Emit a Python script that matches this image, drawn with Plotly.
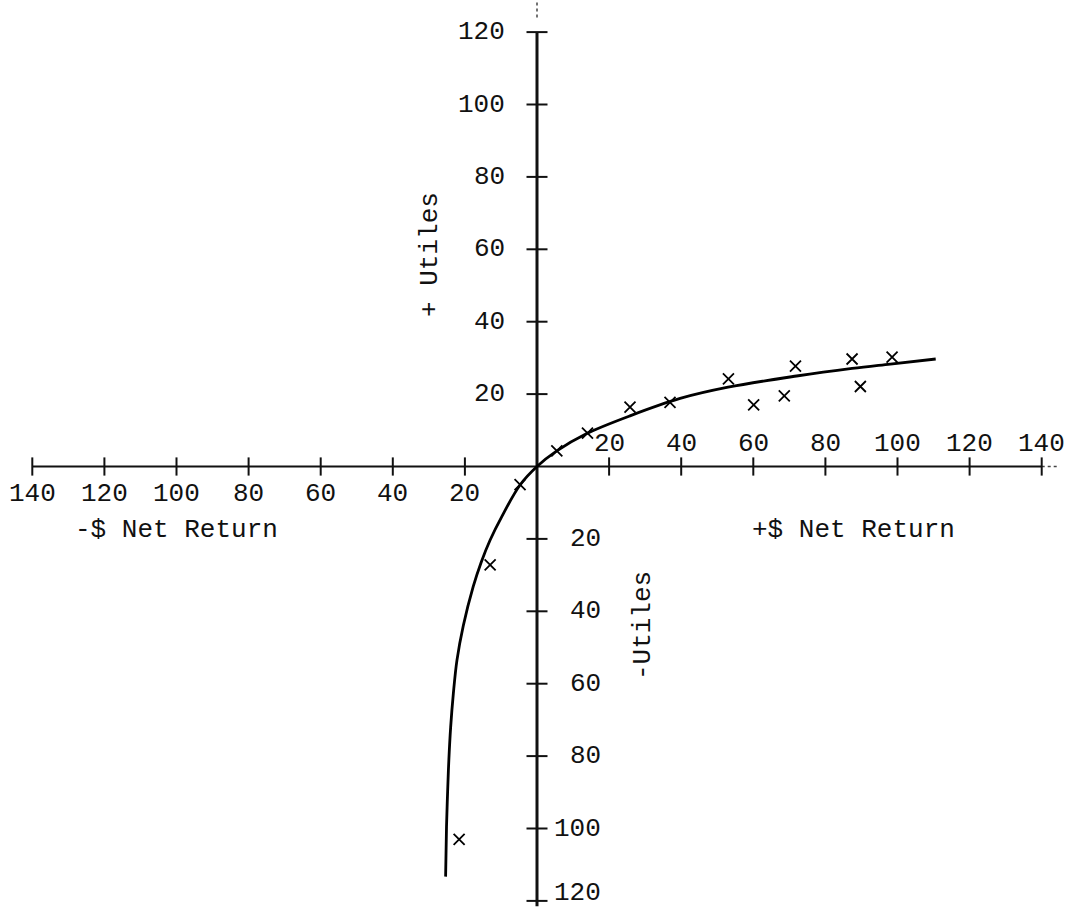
import plotly.graph_objects as go

# ---- data ----
tick_vals = [20, 40, 60, 80, 100, 120, 140]
neg_y_ticks = [20, 40, 60, 80, 100, 120]
tick_labels = ["20", "40", "60", "80", "100", "120", "140"]

# observed points (x = $ net return, y = utiles)
obs_x = [5.5, 14.0, 25.8, 36.9, 53.1, 60.1, 68.6, 71.7, 87.4, 89.7, 98.5, -4.7, -13.0, -21.6]
obs_y = [4.3, 9.2, 16.4, 17.7, 24.2, 17.0, 19.5, 27.7, 29.7, 22.1, 30.2, -5.0, -27.2, -103.0]

# fitted utility curve
curve_x = [-25.35, -25.1, -24.8, -24.45, -23.95, -23.2, -22.2, -20.45, -17.7, -15.5, -13.0, -9.8, -4.7, 0.0,
           5.5, 13.8, 25.8, 39.7, 53.0, 72.0, 87.4, 98.0, 110.6]
curve_y = [-113.3, -99.5, -90.0, -81.0, -72.0, -62.7, -53.5, -44.0, -33.2, -26.5, -20.3, -13.9, -5.1, 0.0,
           4.3, 9.1, 14.0, 18.8, 21.9, 25.0, 27.1, 28.3, 29.7]

FONT = "Courier New, Liberation Mono, monospace"
W, H = 1071, 909
OX, OY = 537, 466.5
SX, SY = 3.605, 3.62

fig = go.Figure()

# axes
fig.add_trace(go.Scatter(x=[-140, 140], y=[0, 0], mode="lines",
                         line=dict(color="#111", width=2), hoverinfo="skip"))
fig.add_trace(go.Scatter(x=[140, 145], y=[0, 0], mode="lines",
                         line=dict(color="#444", width=1.5, dash="dot"), hoverinfo="skip"))
fig.add_trace(go.Scatter(x=[0, 0], y=[-121.5, 120], mode="lines",
                         line=dict(color="#111", width=3), hoverinfo="skip"))
fig.add_trace(go.Scatter(x=[0, 0], y=[124, 129], mode="lines",
                         line=dict(color="#444", width=1.5, dash="dot"), hoverinfo="skip"))

# tick marks
xt = [-v for v in tick_vals] + tick_vals
fig.add_trace(go.Scatter(x=xt, y=[0] * len(xt), mode="markers",
                         marker=dict(symbol="line-ns", size=13, line=dict(color="#111", width=2)),
                         hoverinfo="skip"))
yt = tick_vals[:-1] + [-v for v in neg_y_ticks]
fig.add_trace(go.Scatter(x=[0] * len(yt), y=yt, mode="markers",
                         marker=dict(symbol="line-ew", size=15, line=dict(color="#111", width=2)),
                         hoverinfo="skip"))

# curve
fig.add_trace(go.Scatter(x=curve_x, y=curve_y, mode="lines", line_shape="spline",
                         line=dict(color="#000", width=2.8), hoverinfo="skip"))

# observations
fig.add_trace(go.Scatter(x=obs_x, y=obs_y, mode="markers",
                         marker=dict(symbol="x-thin", size=11, color="#000",
                                     line=dict(color="#000", width=1.8)),
                         hoverinfo="skip"))

ann = []
tf = dict(family=FONT, size=26, color="#111")
# positive x labels (above axis)
for v, t in zip(tick_vals, tick_labels):
    ann.append(dict(x=v, y=0, text=t, showarrow=False, font=tf,
                    xanchor="center", yanchor="middle", yshift=23))
# negative x labels (below axis)
for v, t in zip(tick_vals, tick_labels):
    ann.append(dict(x=-v, y=0, text=t, showarrow=False, font=tf,
                    xanchor="center", yanchor="middle", yshift=-27))
# positive y labels (left of axis)
for v, t in zip(tick_vals[:-1], tick_labels[:-1]):
    ann.append(dict(x=0, y=v, text=t, showarrow=False, font=tf,
                    xanchor="right", yanchor="middle", xshift=-30))
# negative y labels (right of axis)
for v, t in zip(neg_y_ticks, tick_labels[:-1]):
    ann.append(dict(x=0, y=-v, text=t, showarrow=False, font=tf,
                    xanchor="right", yanchor="middle", xshift=66,
                    yshift=8 if v == 120 else 0))

# axis titles
ann.append(dict(x=-100, y=-17.5, text="-$ Net Return", showarrow=False, font=tf))
ann.append(dict(x=87.7, y=-17.5, text="+$ Net Return", showarrow=False, font=tf))
ann.append(dict(x=-29.7, y=58.7, text="+ Utiles", showarrow=False, font=tf, textangle=-90))
ann.append(dict(x=29.4, y=-43.8, text="-Utiles", showarrow=False, font=tf, textangle=-90))

fig.update_layout(
    width=W, height=H,
    margin=dict(l=0, r=0, t=0, b=0),
    paper_bgcolor="white", plot_bgcolor="white",
    showlegend=False,
    xaxis=dict(visible=False, range=[-OX / SX, (W - OX) / SX], fixedrange=True),
    yaxis=dict(visible=False, range=[-(H - OY) / SY, OY / SY], fixedrange=True),
    annotations=ann,
)

fig.write_html("out.html", config={"displayModeBar": False},
               post_script="document.body.style.margin='0';document.body.style.overflow='hidden';")
